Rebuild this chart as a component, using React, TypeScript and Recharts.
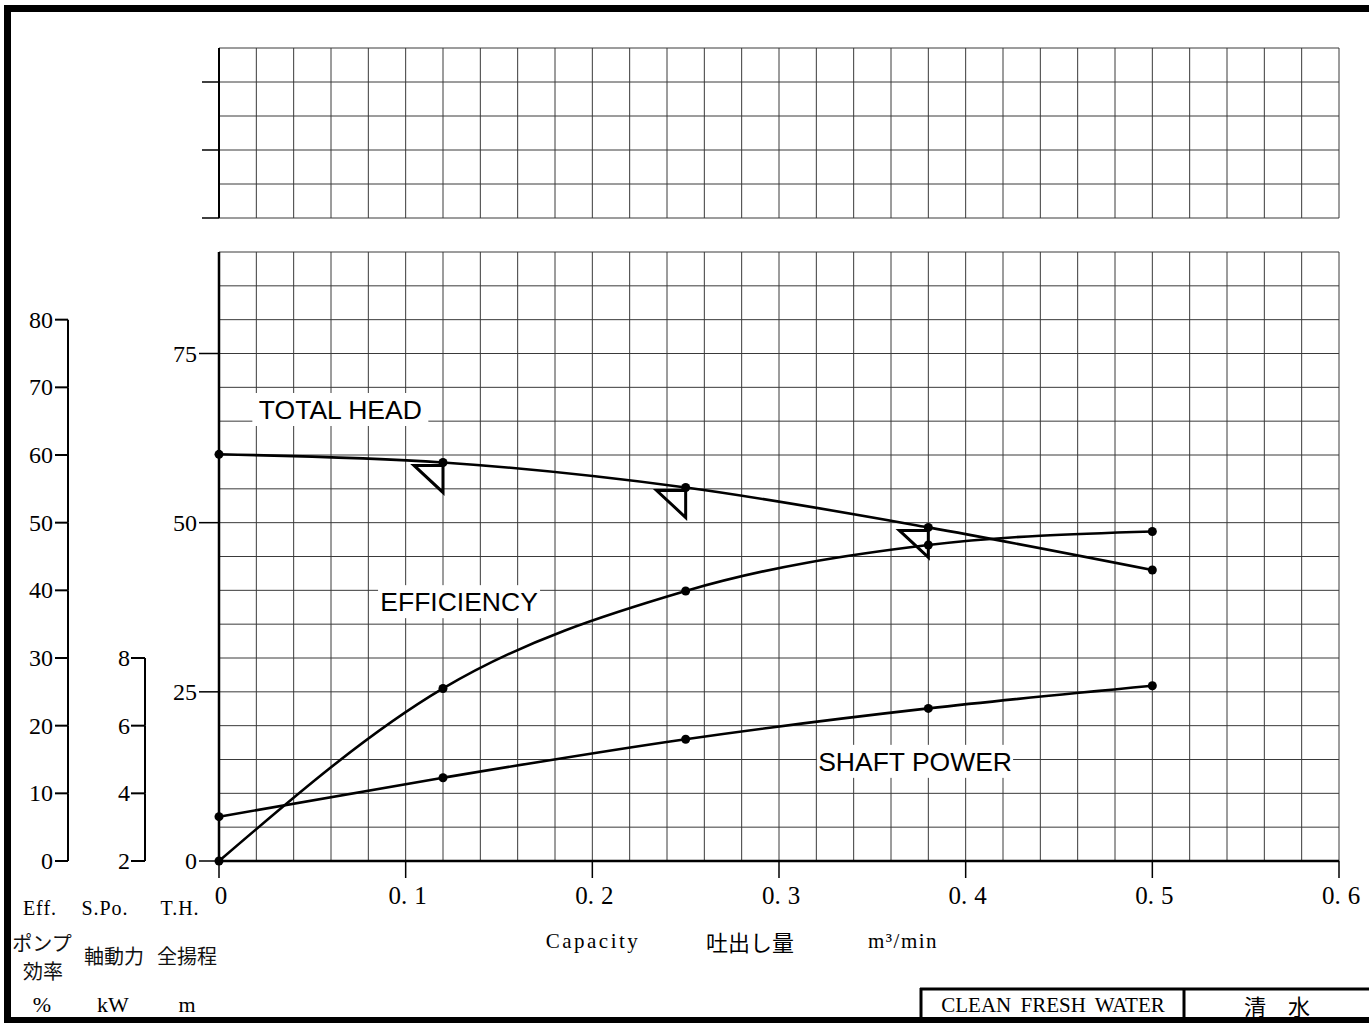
import React from "react";
import {
  ComposedChart,
  Line,
  Scatter,
  XAxis,
  YAxis,
  CartesianGrid,
  ReferenceDot,
} from "recharts";

// --- data ---
const capacity = [0, 0.12, 0.25, 0.38, 0.5]; // m3/min
const totalHead = [60.1, 58.9, 55.2, 49.3, 43.0]; // m
const efficiency = [0, 25.5, 39.9, 46.7, 48.7]; // %
const shaftPower = [3.31, 4.46, 5.6, 6.51, 7.18]; // kW

// duty point marks (triangles under the head curve)
const dutyCapacity = [0.12, 0.25, 0.38];
const dutyHead = [58.9, 55.2, 49.3];

const capacityTicks = [0, 0.1, 0.2, 0.3, 0.4, 0.5, 0.6];
const headTicks = [0, 25, 50, 75];
const effTicks = [0, 10, 20, 30, 40, 50, 60, 70, 80];
const powerTicks = [2, 4, 6, 8];
const upperTicks = [0, 2, 4];

const curveNames = ["TOTAL HEAD", "EFFICIENCY", "SHAFT POWER"];
const curveNameQ = [0.065, 0.1286, 0.3729];
const curveNameHead = [66.8, 38.4, 14.8];

// grid every 0.02 m3/min and every 5 m
const gridQ = Array.from({ length: 31 }, (_, i) => +(i * 0.02).toFixed(2));
const gridHead = Array.from({ length: 19 }, (_, i) => i * 5);
const gridUpper = [0, 1, 2, 3, 4, 5];

const W = 1369;
const H = 1023;
const TOP = 252;
const X_AXIS_H = 30;
const BOTTOM = 162 - X_AXIS_H;
const PLOT_H = H - TOP - BOTTOM - X_AXIS_H;
const STEP = (PLOT_H / 90) * 10; // both eff (0-90) and kW (2-20) ticks are this far apart

// left axes are laid out by id: first id sits next to the plot
const TH = "y1";
const PO = "y2";
const EF = "y3";

const serif = "'Liberation Serif', 'DejaVu Serif', serif";
const sans = "'Liberation Sans', Arial, sans-serif";
const jp = "'Noto Sans CJK JP', sans-serif";

const rows = capacity.map((q, i) => ({
  q,
  head: totalHead[i],
  eff: efficiency[i],
  power: shaftPower[i],
}));
const dutyRows = dutyCapacity.map((q, i) => ({ q, head: dutyHead[i] }));

const nameWidth: Record<string, number> = {
  "TOTAL HEAD": 176,
  EFFICIENCY: 162,
  "SHAFT POWER": 196,
};

function axisTick(size: number, margin: number, top: number | null) {
  return (props: any) => {
    const { x, y, payload } = props;
    const lineX = x + size + margin;
    return (
      <g>
        <text
          x={x}
          y={y}
          textAnchor="end"
          dominantBaseline="central"
          fontFamily={serif}
          fontSize={24}
          fill="#000"
        >
          {payload.value}
        </text>
        {top !== null && payload.value !== top && (
          <line x1={lineX} x2={lineX} y1={y} y2={y - STEP} stroke="#000" strokeWidth={2} />
        )}
      </g>
    );
  };
}

const NoLabel = () => <g />;

const DutyMark = (p: any) => {
  const { cx, cy } = p;
  return (
    <path
      d={`M${cx - 29},${cy + 3} L${cx},${cy + 3} L${cx},${cy + 30} Z`}
      fill="none"
      stroke="#000"
      strokeWidth={3}
    />
  );
};

const nameShape = (text: string) => (p: any) => {
  const w = nameWidth[text];
  return (
    <g>
      <rect x={p.cx - w / 2} y={p.cy - 16} width={w} height={33} fill="#fff" />
      <text
        x={p.cx}
        y={p.cy + 1}
        textAnchor="middle"
        dominantBaseline="central"
        fontFamily={sans}
        fontSize={26.5}
        fill="#000"
      >
        {text}
      </text>
    </g>
  );
};

const XTick = (props: any) => {
  const { x, y, payload } = props;
  const v = payload.value;
  return (
    <text
      x={x + 2}
      y={y}
      textAnchor="middle"
      dominantBaseline="hanging"
      fontFamily={serif}
      fontSize={25}
      fill="#000"
    >
      {v === 0 ? (
        "0"
      ) : (
        <>
          {"0."}
          <tspan dx={7}>{Math.round(v * 10)}</tspan>
        </>
      )}
    </text>
  );
};

export default function App() {
  return (
    <div
      style={{
        position: "absolute",
        left: 0,
        top: 0,
        width: W,
        height: H,
        background: "#fff",
        overflow: "hidden",
      }}
    >
      {/* empty upper panel */}
      <div style={{ position: "absolute", left: 0, top: 0 }}>
        <ComposedChart width={W} height={240} data={rows} margin={{ top: 48, right: 30, bottom: 22, left: 0 }}>
          <CartesianGrid
            yAxisId="up"
            stroke="#3a3a3a"
            verticalValues={gridQ}
            horizontalValues={gridUpper}
          />
          <XAxis type="number" dataKey="q" domain={[0, 0.6]} allowDataOverflow hide />
          <YAxis
            yAxisId="up"
            type="number"
            domain={[0, 5]}
            allowDataOverflow
            ticks={upperTicks}
            width={219}
            tick={NoLabel}
            tickSize={17}
            tickLine={{ stroke: "#000", strokeWidth: 1.5 }}
            axisLine={{ stroke: "#000", strokeWidth: 2 }}
          />
        </ComposedChart>
      </div>

      {/* performance curves */}
      <div style={{ position: "absolute", left: 0, top: 0 }}>
        <ComposedChart width={W} height={H} data={rows} margin={{ top: TOP, right: 30, bottom: BOTTOM, left: 0 }}>
          <CartesianGrid
            yAxisId={TH}
            stroke="#3a3a3a"
            verticalValues={gridQ}
            horizontalValues={gridHead}
          />
          <XAxis
            type="number"
            dataKey="q"
            domain={[0, 0.6]}
            height={X_AXIS_H}
            ticks={capacityTicks}
            tickSize={17}
            tickMargin={8}
            tick={XTick}
            tickLine={{ stroke: "#000", strokeWidth: 1.5 }}
            axisLine={{ stroke: "#000", strokeWidth: 2.5 }}
          />
          <YAxis
            yAxisId={TH}
            type="number"
            domain={[0, 90]}
            ticks={headTicks}
            width={74}
            tickSize={20}
            tickMargin={2}
            tick={axisTick(20, 2, null)}
            tickLine={{ stroke: "#000", strokeWidth: 1.5 }}
            axisLine={{ stroke: "#000", strokeWidth: 2.5 }}
          />
          <YAxis
            yAxisId={PO}
            type="number"
            domain={[2, 20]}
            ticks={powerTicks}
            width={77}
            tickSize={14}
            tickMargin={1}
            axisLine={false}
            tick={axisTick(14, 1, 8)}
            tickLine={{ stroke: "#000", strokeWidth: 2 }}
          />
          <YAxis
            yAxisId={EF}
            type="number"
            domain={[0, 90]}
            ticks={effTicks}
            width={68}
            tickSize={13}
            tickMargin={2}
            axisLine={false}
            tick={axisTick(13, 2, 80)}
            tickLine={{ stroke: "#000", strokeWidth: 2 }}
          />

          {curveNames.map((name, i) => (
            <ReferenceDot
              key={name}
              yAxisId={TH}
              x={curveNameQ[i]}
              y={curveNameHead[i]}
              r={0}
              shape={nameShape(name)}
            />
          ))}

          <Line
            yAxisId={TH}
            type="monotone"
            dataKey="head"
            stroke="#000"
            strokeWidth={2.6}
            dot={{ r: 4.5, fill: "#000", stroke: "none" }}
            isAnimationActive={false}
          />
          <Line
            yAxisId={EF}
            type="monotone"
            dataKey="eff"
            stroke="#000"
            strokeWidth={2.6}
            dot={{ r: 4.5, fill: "#000", stroke: "none" }}
            isAnimationActive={false}
          />
          <Line
            yAxisId={PO}
            type="monotone"
            dataKey="power"
            stroke="#000"
            strokeWidth={2.6}
            dot={{ r: 4.5, fill: "#000", stroke: "none" }}
            isAnimationActive={false}
          />
          <Scatter
            yAxisId={TH}
            data={dutyRows}
            dataKey="head"
            shape={DutyMark}
            isAnimationActive={false}
          />
        </ComposedChart>
      </div>

      {/* frame, axis captions and title block */}
      <svg
        width={W}
        height={H}
        style={{ position: "absolute", left: 0, top: 0, pointerEvents: "none" }}
      >
        <rect x={4} y={5} width={W - 4} height={7} fill="#000" />
        <rect x={4} y={5} width={7} height={H - 5} fill="#000" />
        <rect x={4} y={1017} width={W - 4} height={6} fill="#000" />

        <g fontFamily={serif} fontSize={20} fill="#000" textAnchor="middle" letterSpacing={1}>
          <text x={40} y={908} dominantBaseline="central">Eff.</text>
          <text x={105} y={908} dominantBaseline="central">S.Po.</text>
          <text x={180} y={908} dominantBaseline="central">T.H.</text>
        </g>
        <g fontFamily={jp} fontSize={20} fill="#111" textAnchor="middle">
          <text x={42} y={942} dominantBaseline="central">ポンプ</text>
          <text x={43} y={970} dominantBaseline="central">効率</text>
          <text x={114} y={955} dominantBaseline="central">軸動力</text>
          <text x={187} y={955} dominantBaseline="central">全揚程</text>
        </g>
        <g fontFamily={serif} fontSize={22} fill="#000" textAnchor="middle">
          <text x={42} y={1004} dominantBaseline="central">%</text>
          <text x={113} y={1004} dominantBaseline="central">kW</text>
          <text x={187} y={1004} dominantBaseline="central">m</text>
        </g>

        <g fill="#000" textAnchor="middle">
          <text x={593} y={941} dominantBaseline="central" fontFamily={serif} fontSize={21} letterSpacing={2.5}>
            Capacity
          </text>
          <text x={750} y={941} dominantBaseline="central" fontFamily={jp} fontSize={22}>
            吐出し量
          </text>
          <text x={903} y={941} dominantBaseline="central" fontFamily={serif} fontSize={21} letterSpacing={1.5}>
            m³/min
          </text>
        </g>

        <line x1={920} x2={W} y1={989} y2={989} stroke="#000" strokeWidth={3} />
        <line x1={921} x2={921} y1={988} y2={1018} stroke="#000" strokeWidth={3} />
        <line x1={1184} x2={1184} y1={988} y2={1018} stroke="#000" strokeWidth={3} />
        <text x={1053} y={1005} dominantBaseline="central" textAnchor="middle" fontFamily={serif} fontSize={21} wordSpacing={4}>
          CLEAN FRESH WATER
        </text>
        <text x={1277} y={1005} dominantBaseline="central" textAnchor="middle" fontFamily={jp} fontSize={22}>
          清　水
        </text>
      </svg>
    </div>
  );
}
